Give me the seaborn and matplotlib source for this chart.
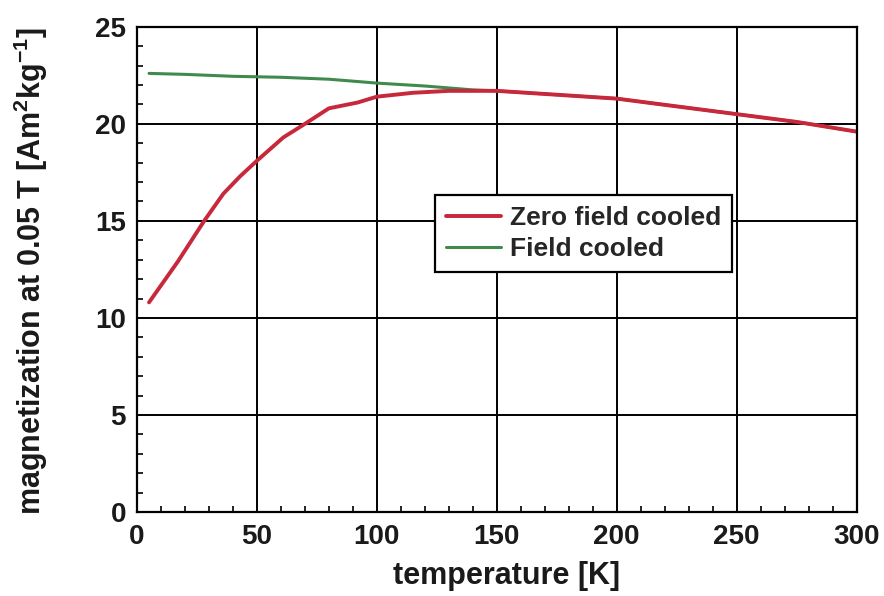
import numpy as np
import pandas as pd
import matplotlib
matplotlib.use("Agg")
import matplotlib.pyplot as plt
import seaborn as sns
from matplotlib.ticker import MultipleLocator

zfc_temp = [5, 17, 28, 36, 43, 50, 61, 70, 80, 92, 100, 115, 130, 150, 175, 200, 225, 250, 275, 300]
zfc_mag = [10.8, 12.9, 15.0, 16.4, 17.3, 18.1, 19.3, 20.0, 20.8, 21.1, 21.4, 21.6, 21.7, 21.7, 21.5, 21.3, 20.9, 20.5, 20.1, 19.6]
fc_temp = [5, 20, 40, 60, 80, 100, 120, 140, 150, 175, 200, 225, 250, 275, 300]
fc_mag = [22.6, 22.55, 22.45, 22.4, 22.3, 22.1, 21.95, 21.75, 21.7, 21.5, 21.3, 20.9, 20.5, 20.1, 19.6]
series_names = ["Zero field cooled", "Field cooled"]

df = pd.concat([
    pd.DataFrame({"temperature": zfc_temp, "magnetization": zfc_mag, "series": series_names[0]}),
    pd.DataFrame({"temperature": fc_temp, "magnetization": fc_mag, "series": series_names[1]}),
])

sns.set_theme(style="white")
plt.rcParams['font.family'] = ['Liberation Sans', 'DejaVu Sans']
plt.rcParams['font.weight'] = 'bold'
plt.rcParams['mathtext.fontset'] = 'custom'
plt.rcParams['mathtext.bf'] = 'Liberation Sans:bold'
plt.rcParams['mathtext.rm'] = 'Liberation Sans:bold'
plt.rcParams['mathtext.default'] = 'bf'

fig = plt.figure(figsize=(8.84, 5.96), dpi=100)
ax = fig.add_axes([0.155, 0.141, 0.814, 0.814])

palette = {series_names[0]: "#c8283c", series_names[1]: "#3f8a4c"}
sns.lineplot(data=df[df.series == series_names[1]], x="temperature", y="magnetization",
             color=palette[series_names[1]], lw=2.2, ax=ax, label=series_names[1], sort=True)
sns.lineplot(data=df[df.series == series_names[0]], x="temperature", y="magnetization",
             color=palette[series_names[0]], lw=2.8, ax=ax, label=series_names[0], sort=True)

ax.set_xlim(0, 300)
ax.set_ylim(0, 25)
ax.xaxis.set_major_locator(MultipleLocator(50))
ax.xaxis.set_minor_locator(MultipleLocator(10))
ax.yaxis.set_major_locator(MultipleLocator(5))
ax.yaxis.set_minor_locator(MultipleLocator(1))
ax.grid(True, which="major", color="black", lw=1.4)
ax.tick_params(axis="both", which="major", direction="in", length=0, labelsize=20, colors="#1a1a1a")
ax.tick_params(axis="x", which="major", pad=9)
ax.tick_params(axis="y", which="major", pad=8)
ax.tick_params(axis="both", which="minor", direction="in", length=4, width=1.2, color="black", bottom=True, left=True)
for s in ax.spines.values():
    s.set_visible(True)
    s.set_color("black")
    s.set_linewidth(1.6)
for lab in ax.get_xticklabels() + ax.get_yticklabels():
    lab.set_fontweight("bold")

ax.set_xlabel("temperature [K]", fontsize=22, fontweight="bold", color="#1a1a1a")
ax.xaxis.set_label_coords(0.513, -0.102, transform=ax.transAxes)
ax.xaxis.label.set_va("top")
ax.set_ylabel(r"magnetization at 0.05 T [Am$^{2}$kg$^{-1}$]", fontsize=22, fontweight="bold",
              color="#1a1a1a")
ax.yaxis.set_label_coords(-0.148, 0.497, transform=ax.transAxes)
ax.yaxis.label.set_va("center")

handles, labels = ax.get_legend_handles_labels()
order = [labels.index(series_names[0]), labels.index(series_names[1])]
leg = ax.legend([handles[i] for i in order], [labels[i] for i in order],
                loc="upper left", bbox_to_anchor=(0.414, 0.654), frameon=True, fancybox=False,
                edgecolor="black", framealpha=1, handlelength=2.1, handletextpad=0.33,
                borderpad=0.42, labelspacing=0.28, borderaxespad=0,
                prop={"weight": "bold", "size": 19})
leg.get_frame().set_linewidth(1.6)

fig.savefig("out.png", dpi=100, facecolor="white")
